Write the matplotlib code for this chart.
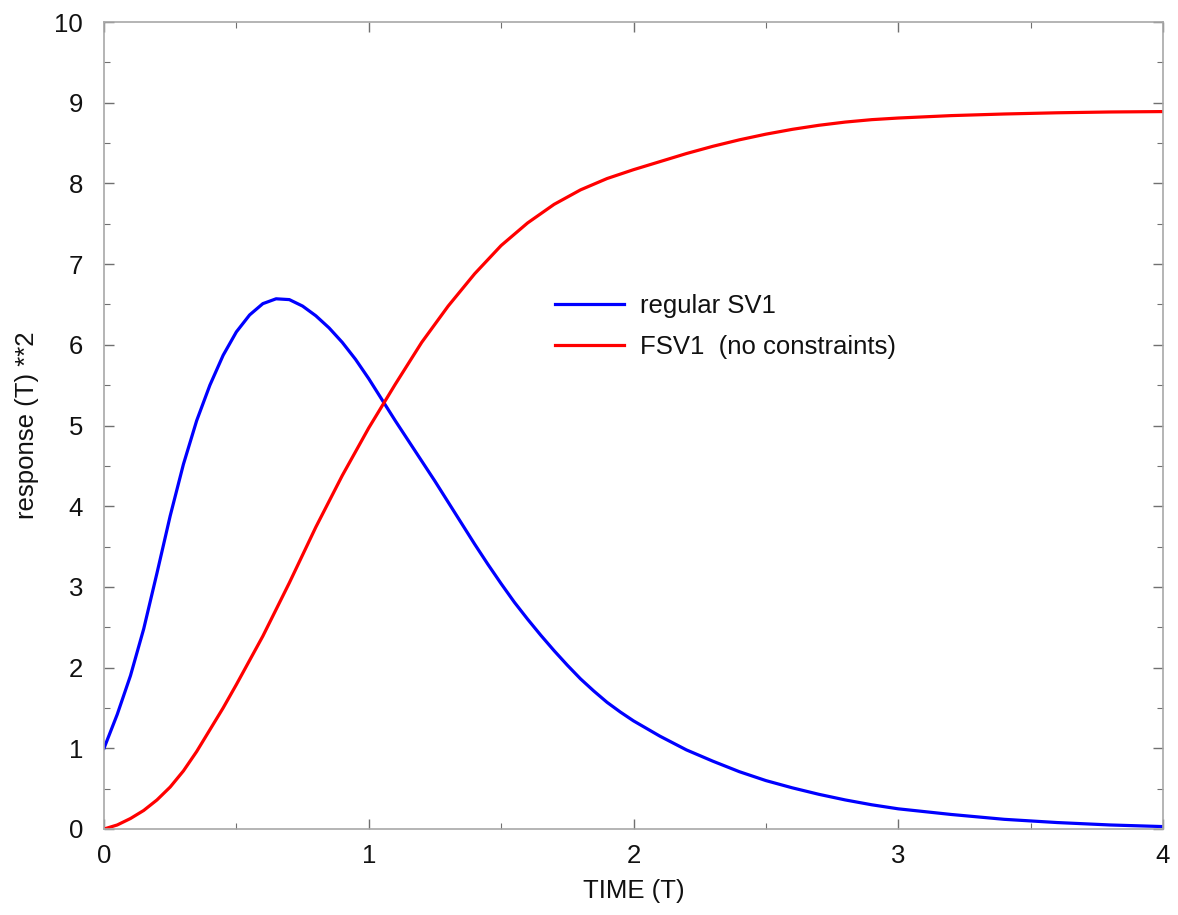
import matplotlib
matplotlib.use("Agg")
import matplotlib.pyplot as plt
from matplotlib.ticker import MultipleLocator

plt.rcParams['font.family'] = ['Liberation Sans', 'DejaVu Sans']

# time values (T)
t_blue = [0.00, 0.05, 0.10, 0.15, 0.20, 0.25, 0.30, 0.35, 0.40, 0.45, 0.50, 0.55,
          0.60, 0.65, 0.70, 0.75, 0.80, 0.85, 0.90, 0.95, 1.00, 1.05, 1.10, 1.15,
          1.20, 1.25, 1.30, 1.35, 1.40, 1.45, 1.50, 1.55, 1.60, 1.65, 1.70, 1.75,
          1.80, 1.85, 1.90, 1.95, 2.00, 2.10, 2.20, 2.30, 2.40, 2.50, 2.60, 2.70,
          2.80, 2.90, 3.00, 3.20, 3.40, 3.60, 3.80, 4.00]
regular_sv1 = [1.00, 1.42, 1.90, 2.48, 3.17, 3.88, 4.52, 5.06, 5.50, 5.87, 6.16, 6.37,
               6.51, 6.57, 6.56, 6.48, 6.36, 6.21, 6.03, 5.82, 5.58, 5.32, 5.06, 4.81,
               4.56, 4.31, 4.05, 3.79, 3.53, 3.28, 3.04, 2.81, 2.60, 2.40, 2.21, 2.03,
               1.86, 1.71, 1.57, 1.45, 1.34, 1.15, 0.98, 0.84, 0.71, 0.60, 0.51, 0.43,
               0.36, 0.30, 0.25, 0.18, 0.12, 0.08, 0.05, 0.03]

t_red = [0.00, 0.05, 0.10, 0.15, 0.20, 0.25, 0.30, 0.35, 0.40, 0.45, 0.50, 0.60,
         0.70, 0.80, 0.90, 1.00, 1.10, 1.20, 1.30, 1.40, 1.50, 1.60, 1.70, 1.80,
         1.90, 2.00, 2.10, 2.20, 2.30, 2.40, 2.50, 2.60, 2.70, 2.80, 2.90, 3.00,
         3.20, 3.40, 3.60, 3.80, 4.00]
fsv1 = [0.00, 0.05, 0.13, 0.23, 0.36, 0.52, 0.72, 0.96, 1.23, 1.50, 1.79, 2.39,
        3.05, 3.74, 4.38, 4.97, 5.51, 6.03, 6.48, 6.88, 7.23, 7.51, 7.74, 7.92,
        8.06, 8.17, 8.27, 8.37, 8.46, 8.54, 8.61, 8.67, 8.72, 8.76, 8.79, 8.81,
        8.84, 8.86, 8.875, 8.885, 8.89]

labels = ["regular SV1", "FSV1  (no constraints)"]
x_ticks = [0, 1, 2, 3, 4]
y_ticks = list(range(0, 11))

fig = plt.figure(figsize=(11.78, 9.15), dpi=100)
ax = fig.add_axes([104 / 1178, 1 - 829 / 915, (1163 - 104) / 1178, (829 - 22) / 915])

ax.plot(t_blue, regular_sv1, color='#0000ff', lw=2.3, label=labels[0])
ax.plot(t_red, fsv1, color='#ff0000', lw=2.3, label=labels[1])

ax.set_xlim(0, 4)
ax.set_ylim(0, 10)
ax.set_xticks(x_ticks)
ax.set_yticks(y_ticks)
ax.xaxis.set_minor_locator(MultipleLocator(0.5))
ax.yaxis.set_minor_locator(MultipleLocator(0.5))

for s in ax.spines.values():
    s.set_color('#a8a8a8')
    s.set_linewidth(1.2)

ax.tick_params(which='both', direction='in', top=True, right=True, color='#707070')
ax.tick_params(which='major', length=7, width=1.0, labelsize=18.5, colors='#707070',
               labelcolor='#111111')
ax.tick_params(axis='y', which='major', pad=15)
ax.tick_params(axis='x', which='major', pad=11)
ax.tick_params(which='minor', length=4, width=0.8)

ax.set_xlabel("TIME (T)", fontsize=18.5, labelpad=8, color='#111111')
ax.set_ylabel("response (T) **2", fontsize=18.5, labelpad=11, color='#111111')

leg = ax.legend(loc='upper left', bbox_to_anchor=(555 / 1178, 1 - 294 / 915),
                bbox_transform=fig.transFigure, frameon=False, fontsize=18.5,
                handlelength=2.7, handletextpad=0.6, labelspacing=0.68,
                borderpad=0, borderaxespad=0)
for txt in leg.get_texts():
    txt.set_color('#111111')

fig.savefig("out.png", dpi=100)
